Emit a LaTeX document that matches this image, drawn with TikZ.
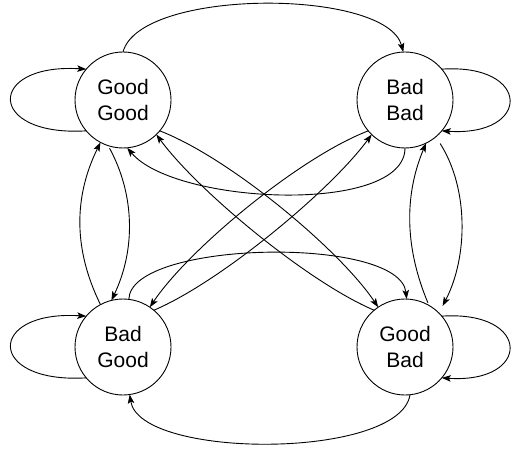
\documentclass[tikz,border=0pt]{standalone}
\usepackage{fontspec}
\setmainfont{Liberation Sans}
\usetikzlibrary{arrows.meta}
\begin{document}
\begin{tikzpicture}[x=1pt,y=-1pt,
  state/.style={circle,draw,line width=0.9pt,minimum size=96pt,inner sep=0pt,outer sep=0pt,align=center,font=\fontsize{21}{26}\selectfont},
  edge/.style={line width=0.9pt,-{Stealth[length=9pt,width=6.5pt,inset=2pt]}}]
\useasboundingbox (0,0) rectangle (513,449);
\node[state] (gg) at (123,100) {Good\\Good};
\node[state] (bb) at (405,100) {Bad\\Bad};
\node[state] (bg) at (123,347) {Bad\\Good};
\node[state] (gb) at (405,347) {Good\\Bad};
% self loops
\draw[edge] (gg.-140) .. controls +(-100,6) and +(-100,-6) .. (gg.140);
\draw[edge] (bg.-140) .. controls +(-100,6) and +(-100,-6) .. (bg.140);
\draw[edge] (bb.40) .. controls +(90,-6) and +(90,6) .. (bb.-40);
\draw[edge] (gb.40) .. controls +(90,-6) and +(90,6) .. (gb.-40);
% outer arcs
\draw[edge] (gg.90) .. controls +(17,-64) and +(-17,-64) .. (bb.92);
\draw[edge] (gb.-84) .. controls +(-10,65) and +(10,65) .. (bg.-82);
% middle arcs
\draw[edge] (bb.-90) .. controls +(0,67) and +(48,57) .. (gg.-85);
\draw[edge] (bg.83) .. controls +(1,-59) and +(-7,-64) .. (gb.88);
% diagonals
\draw[edge] (gg.-40) .. controls +(70,27) and +(-38,-57) .. (gb.124);
\draw[edge] (gb.130) .. controls +(-66,-28) and +(42,57) .. (gg.-46);
\draw[edge] (bb.-140) .. controls +(-70,27) and +(38,-57) .. (bg.56);
\draw[edge] (bg.50) .. controls +(66,-28) and +(-42,57) .. (bb.-134);
% vertical pairs
\draw[edge] (bg.118) .. controls +(-27,-55) and +(-27,55) .. (gg.-118);
\draw[edge,shorten <=3pt] (gg.-108) .. controls +(27,50) and +(24,-50) .. (bg.104);
\draw[edge,shorten <=3pt] (gb.60) .. controls +(-23,-55) and +(-23,55) .. (bb.-64);
\draw[edge,shorten <=8pt,shorten >=8pt] (bb.-50) .. controls +(33,52) and +(29,-56) .. (gb.45);
\end{tikzpicture}
\end{document}
